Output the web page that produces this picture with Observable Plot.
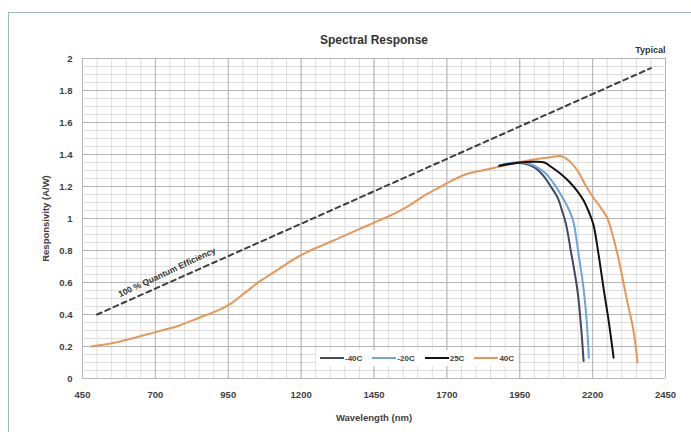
<!DOCTYPE html>
<html>
<head>
<meta charset="utf-8">
<script src="https://cdn.jsdelivr.net/npm/d3@7"></script>
<script src="https://cdn.jsdelivr.net/npm/@observablehq/plot@0.6"></script>
<style>
  html, body { margin: 0; padding: 0; background: #fff; }
  #wrap { position: relative; width: 691px; height: 432px; overflow: hidden; }
  #border { position: absolute; left: 8px; top: 12px; width: 690px; height: 430px; border: 1px solid #9FB6D3; box-sizing: border-box; pointer-events: none; }
  #legend { position: absolute; left: 316px; top: 350px; height: 16px; padding: 0 4px; background: #fff; display: flex; align-items: center; gap: 10px;
            font-family: "Liberation Sans", Arial, sans-serif; font-size: 8px; font-weight: bold; color: #404040; }
  #legend .item { display: flex; align-items: center; gap: 1px; }
  #legend .sw { display: inline-block; width: 24px; height: 2px; }
  svg text { font-weight: bold; }
</style>
</head>
<body>
<div id="wrap">
  <div id="chart"></div>
  <div id="legend"></div>
  <div id="border"></div>
</div>
<script>
// ---- data ----
const seriesNames = ["-40C", "-20C", "25C", "40C"];
const seriesColors = ["#3F4B5C", "#6FA5D8", "#111111", "#E8975A"];

const waveM40 = [1880, 1920, 1960, 2000, 2030, 2060, 2080, 2095, 2108, 2125, 2148, 2160, 2169];
const respM40 = [1.33, 1.345, 1.345, 1.32, 1.27, 1.19, 1.13, 1.05, 0.97, 0.80, 0.55, 0.33, 0.11];

const waveM20 = [1880, 1930, 1975, 2010, 2040, 2070, 2100, 2120, 2134, 2150, 2169, 2180, 2187];
const respM20 = [1.33, 1.35, 1.345, 1.32, 1.28, 1.21, 1.12, 1.05, 0.98, 0.80, 0.56, 0.35, 0.13];

const wave25 = [1880, 1950, 2000, 2035, 2060, 2090, 2120, 2148, 2170, 2185, 2203, 2220, 2237, 2255, 2272];
const resp25 = [1.33, 1.35, 1.355, 1.35, 1.32, 1.28, 1.23, 1.17, 1.11, 1.05, 0.96, 0.78, 0.57, 0.36, 0.13];

const wave40 = [480, 550, 620, 700, 780, 850, 920, 960, 1010, 1060, 1120, 1170, 1220, 1270, 1320, 1370, 1420, 1470,
                1520, 1570, 1620, 1670, 1720, 1770, 1820, 1870, 1920, 1970, 2020, 2060, 2090, 2120, 2148, 2175,
                2203, 2227, 2251, 2265, 2285, 2320, 2340, 2354];
const resp40 = [0.20, 0.22, 0.25, 0.29, 0.33, 0.38, 0.43, 0.47, 0.54, 0.61, 0.68, 0.74, 0.79, 0.83, 0.87, 0.91, 0.95, 0.99,
                1.03, 1.08, 1.14, 1.19, 1.24, 1.28, 1.30, 1.32, 1.34, 1.36, 1.375, 1.385, 1.39, 1.36, 1.30, 1.21,
                1.13, 1.07, 1.00, 0.92, 0.78, 0.47, 0.30, 0.10];

const qeWave = [500, 2400];
const qeResp = [0.40, 1.94];
const qeLabel = "100 % Quantum Efficiency";
const qeLabelAt = [740];

const xTicks = [450, 700, 950, 1200, 1450, 1700, 1950, 2200, 2450];
const yTicks = [0, 0.2, 0.4, 0.6, 0.8, 1, 1.2, 1.4, 1.6, 1.8, 2];

const titleText = "Spectral Response";
const noteText = "Typical";
const xLabel = "Wavelength (nm)";
const yLabel = "Responsivity (A/W)";

// ---- build tables ----
const waves = [waveM40, waveM20, wave25, wave40];
const resps = [respM40, respM20, resp25, resp40];
const rows = [];
seriesNames.forEach((s, i) => waves[i].forEach((w, j) => rows.push({series: s, wave: w, resp: resps[i][j]})));
const qeRows = qeWave.map((w, i) => ({wave: w, resp: qeResp[i]}));
const qeLabelRows = qeLabelAt.map(w => ({wave: w, resp: qeResp[0] + (w - qeWave[0]) * (qeResp[1] - qeResp[0]) / (qeWave[1] - qeWave[0])}));

const minorX = d3.range(450, 2451, 50);
const minorY = d3.range(0, 2.001, 0.05);
const drawOrder = ["40C", "-40C", "-20C", "25C"];

const chart = Plot.plot({
  width: 691,
  height: 432,
  marginLeft: 82,
  marginRight: 26,
  marginTop: 58,
  marginBottom: 54,
  style: {fontFamily: "'Liberation Sans', Arial, sans-serif", fontSize: "9px", color: "#404040", background: "#fff"},
  x: {domain: [450, 2450]},
  y: {domain: [0, 2]},
  color: {domain: seriesNames, range: seriesColors},
  marks: [
    Plot.ruleX(minorX, {stroke: "#dcdcdc", strokeWidth: 1}),
    Plot.ruleY(minorY, {stroke: "#dcdcdc", strokeWidth: 1}),
    Plot.ruleX(xTicks, {stroke: "#b5b5b5", strokeWidth: 1}),
    Plot.ruleY(yTicks, {stroke: "#b5b5b5", strokeWidth: 1}),
    Plot.axisX({ticks: xTicks, tickSize: 0, tickPadding: 13, fontSize: 9.5, tickFormat: d => String(d), label: xLabel, labelAnchor: "center", labelArrow: "none", labelOffset: 42}),
    Plot.axisY({ticks: yTicks, tickSize: 0, tickPadding: 10, fontSize: 9.5, tickFormat: d => String(+d.toFixed(1)), label: yLabel, labelAnchor: "center", labelArrow: "none", labelOffset: 40}),
    Plot.line(qeRows, {x: "wave", y: "resp", stroke: "#404040", strokeWidth: 2, strokeDasharray: "5,4"}),
    Plot.text(qeLabelRows, {x: "wave", y: "resp", text: () => qeLabel, rotate: -25, dy: -11, fontSize: 8.5, fill: "#333"}),
    ...drawOrder.map(s => Plot.line(rows.filter(r => r.series === s), {x: "wave", y: "resp", stroke: "series", strokeWidth: 2, curve: "catmull-rom"})),
    Plot.text([titleText], {frameAnchor: "top", dy: -23, fontSize: 12, fill: "#333"}),
    Plot.text([noteText], {frameAnchor: "top-right", dy: -12, textAnchor: "end", fontSize: 9, fill: "#333"})
  ]
});
document.getElementById("chart").appendChild(chart);

const legend = document.getElementById("legend");
seriesNames.forEach((s, i) => {
  const it = document.createElement("span");
  it.className = "item";
  const sw = document.createElement("span");
  sw.className = "sw";
  sw.style.background = seriesColors[i];
  const lb = document.createElement("span");
  lb.textContent = s;
  it.appendChild(sw); it.appendChild(lb);
  legend.appendChild(it);
});
</script>
</body>
</html>
